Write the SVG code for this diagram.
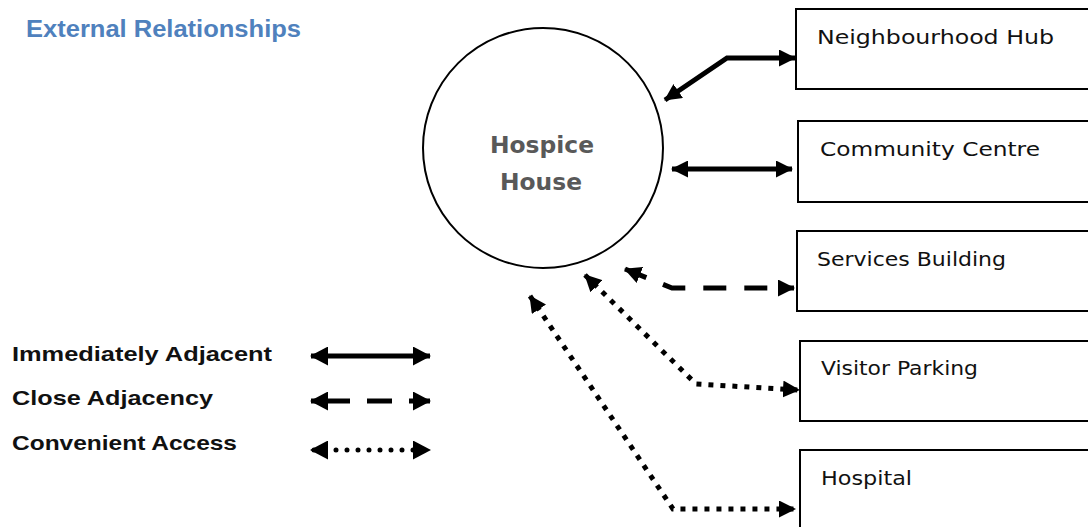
<svg xmlns="http://www.w3.org/2000/svg" width="1088" height="527" viewBox="0 0 1088 527">
  <style>
    .box { fill: #ffffff; stroke: #000000; stroke-width: 2; }
    .lbl { font-family: "DejaVu Sans", "Liberation Sans", sans-serif; font-size: 20px; fill: #111111; }
    .leg { font-family: "Liberation Sans", "DejaVu Sans", sans-serif; font-size: 21px; font-weight: bold; fill: #111111; }
    .link { fill: none; stroke: #000000; stroke-width: 5; }
    .dash { stroke-dasharray: 23 18; }
    .dot { stroke-dasharray: 5 7; }
  </style>
  <defs>
    <marker id="arrow" viewBox="0 0 17 17" refX="16" refY="8.5" markerWidth="17" markerHeight="17" markerUnits="userSpaceOnUse" orient="auto-start-reverse">
      <path d="M0,0 L17,8.5 L0,17 Z" fill="#000000"/>
    </marker>
    <marker id="arrow-lg" viewBox="0 0 18 19" refX="17" refY="9.5" markerWidth="18" markerHeight="19" markerUnits="userSpaceOnUse" orient="auto-start-reverse">
      <path d="M0,0 L18,9.5 L0,19 Z" fill="#000000"/>
    </marker>
  </defs>

  <text x="26" y="37" font-family="'Liberation Sans', 'DejaVu Sans', sans-serif" font-size="23" font-weight="bold" fill="#4f81bd" textLength="275" lengthAdjust="spacingAndGlyphs">External Relationships</text>

  <g id="hospice-house">
    <circle cx="543" cy="148" r="120" fill="#ffffff" stroke="#000000" stroke-width="2"/>
    <text x="542" y="153" text-anchor="middle" font-family="'DejaVu Sans', sans-serif" font-size="23" font-weight="bold" fill="#595959" textLength="104" lengthAdjust="spacingAndGlyphs">Hospice</text>
    <text x="541" y="190" text-anchor="middle" font-family="'DejaVu Sans', sans-serif" font-size="23" font-weight="bold" fill="#595959" textLength="82" lengthAdjust="spacingAndGlyphs">House</text>
  </g>

  <g id="neighbourhood-hub">
    <rect class="box" x="796" y="9" width="310" height="80"/>
    <text class="lbl" x="817" y="44" textLength="237" lengthAdjust="spacingAndGlyphs">Neighbourhood Hub</text>
  </g>
  <g id="community-centre">
    <rect class="box" x="798" y="121" width="310" height="81"/>
    <text class="lbl" x="820" y="156" textLength="220" lengthAdjust="spacingAndGlyphs">Community Centre</text>
  </g>
  <g id="services-building">
    <rect class="box" x="797" y="231" width="310" height="80"/>
    <text class="lbl" x="817" y="266" textLength="189" lengthAdjust="spacingAndGlyphs">Services Building</text>
  </g>
  <g id="visitor-parking">
    <rect class="box" x="800" y="341" width="310" height="80"/>
    <text class="lbl" x="821" y="375" textLength="157" lengthAdjust="spacingAndGlyphs">Visitor Parking</text>
  </g>
  <g id="hospital">
    <rect class="box" x="800" y="450" width="310" height="90"/>
    <text class="lbl" x="821" y="485" textLength="91" lengthAdjust="spacingAndGlyphs">Hospital</text>
  </g>

  <g id="connectors">
    <polyline class="link" points="665,100 727,58 795,58" marker-start="url(#arrow)" marker-end="url(#arrow)"/>
    <polyline class="link" points="672,169 792,169" marker-start="url(#arrow)" marker-end="url(#arrow)"/>
    <polyline class="link dash" points="625,269 672,288 794,288" marker-start="url(#arrow)" marker-end="url(#arrow)"/>
    <polyline class="link dot" points="585,275 696,384 799,390" marker-start="url(#arrow)" marker-end="url(#arrow)"/>
    <polyline class="link dot" points="530,296 673,509 795,509" marker-start="url(#arrow)" marker-end="url(#arrow)"/>
  </g>

  <g id="legend">
    <text class="leg" x="12" y="361" textLength="260" lengthAdjust="spacingAndGlyphs">Immediately Adjacent</text>
    <text class="leg" x="12" y="405" textLength="201" lengthAdjust="spacingAndGlyphs">Close Adjacency</text>
    <text class="leg" x="12" y="450" textLength="225" lengthAdjust="spacingAndGlyphs">Convenient Access</text>
    <line class="link" x1="311" y1="356" x2="430" y2="356" marker-start="url(#arrow-lg)" marker-end="url(#arrow-lg)"/>
    <line class="link" x1="311" y1="401" x2="430" y2="401" stroke-dasharray="39 17 25 17 40" marker-start="url(#arrow-lg)" marker-end="url(#arrow-lg)"/>
    <line class="link" x1="311" y1="450" x2="430" y2="450" stroke-width="5.5" stroke-dasharray="0 11" stroke-dashoffset="-3" stroke-linecap="round" marker-start="url(#arrow-lg)" marker-end="url(#arrow-lg)"/>
  </g>
</svg>
